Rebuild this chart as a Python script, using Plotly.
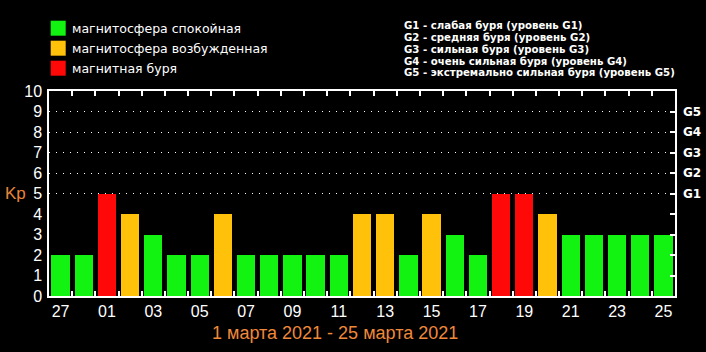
import plotly.graph_objects as go

days = ["27", "28", "01", "02", "03", "04", "05", "06", "07", "08", "09", "10", "11", "12",
        "13", "14", "15", "16", "17", "18", "19", "20", "21", "22", "23", "24", "25"]
kp = [2, 2, 5, 4, 3, 2, 2, 4, 2, 2, 2, 2, 2, 4, 4, 2, 4, 3, 2, 5, 5, 4, 3, 3, 3, 3, 3]
legend_labels = ["магнитосфера спокойная", "магнитосфера возбужденная", "магнитная буря"]
legend_colors = ["#12f312", "#ffc10a", "#ff0808"]
g_labels = ["G1", "G2", "G3", "G4", "G5"]
g_levels = [5, 6, 7, 8, 9]
g_lines = ["G1 - слабая буря (уровень G1)",
           "G2 - средняя буря (уровень G2)",
           "G3 - сильная буря (уровень G3)",
           "G4 - очень сильная буря (уровень G4)",
           "G5 - экстремально сильная буря (уровень G5)"]
title_text = "1 марта 2021 - 25 марта 2021"


def color_for(v):
    if v >= 5:
        return legend_colors[2]
    if v >= 4:
        return legend_colors[1]
    return legend_colors[0]


xs = list(range(len(days)))
fig = go.Figure()
fig.add_trace(go.Bar(x=xs, y=kp, marker=dict(color=[color_for(v) for v in kp], line=dict(width=0)),
                     width=0.79, showlegend=False))
# invisible trace to activate overlay axes
fig.add_trace(go.Scatter(x=[0], y=[0], xaxis="x2", yaxis="y2", mode="markers",
                         marker=dict(opacity=0), showlegend=False, hoverinfo="skip"))

W, H = 706, 352
ml, mr, mt, mb = 49, 31, 91, 56
rng = [-0.5, len(days) - 0.5]

fig.update_layout(
    width=W, height=H,
    margin=dict(l=ml, r=mr, t=mt, b=mb, autoexpand=False),
    paper_bgcolor="black", plot_bgcolor="black",
    bargap=0,
    xaxis=dict(range=rng, tickmode="array", tickvals=xs[::2], ticktext=days[::2],
               ticks="", showline=True, linecolor="white", linewidth=1.5, mirror=True,
               showgrid=False, zeroline=False, fixedrange=True, automargin=False,
               tickfont=dict(family="Liberation Sans", size=16, color="white")),
    xaxis2=dict(range=rng, overlaying="x", side="bottom", tickmode="array",
                tickvals=[i + 0.5 for i in xs[:-1]], ticks="inside", ticklen=5,
                tickcolor="white", tickwidth=1.5, showticklabels=False, mirror="ticks",
                showline=True, linecolor="white", linewidth=1.5, showgrid=False,
                zeroline=False, automargin=False),
    yaxis=dict(range=[0, 10], tickmode="array", tickvals=list(range(11)),
               ticks="", showline=True, linecolor="white", linewidth=1.5, mirror=True,
               showgrid=False, zeroline=False, ticklabelstandoff=2, automargin=False,
               tickfont=dict(family="Liberation Sans", size=16, color="white")),
    yaxis2=dict(range=[0, 10], overlaying="y", side="right", tickmode="array",
                tickvals=g_levels, ticktext=g_labels, ticks="inside", ticklen=5,
                tickcolor="white", tickwidth=1.5, showgrid=True, gridcolor="white",
                gridwidth=1, griddash="1px,6px", zeroline=False, showline=False,
                automargin=False,
                minor=dict(tickmode="array", tickvals=list(range(1, 10)), ticks="inside",
                           ticklen=5, tickcolor="white", tickwidth=1.5),
                ticklabelstandoff=7,
                tickfont=dict(family="DejaVu Sans", size=12, color="white", weight="bold")),
)

pw, ph = W - ml - mr, H - mt - mb


def px_x(x):
    return (x - ml) / pw


def px_y(y):
    return (H - mb - y) / ph


for i, (lab, col) in enumerate(zip(legend_labels, legend_colors)):
    top = 20.7 + 20 * i
    fig.add_shape(type="rect", xref="paper", yref="paper",
                  x0=px_x(50.7), x1=px_x(65.7), y0=px_y(top + 15), y1=px_y(top),
                  line=dict(width=0), fillcolor=col)
    fig.add_annotation(xref="paper", yref="paper", x=px_x(70), y=px_y(top + 7.5),
                       text=lab, showarrow=False, xanchor="left", yanchor="middle",
                       font=dict(family="DejaVu Sans", size=12.5, color="white", weight=500))

for i, line in enumerate(g_lines):
    fig.add_annotation(xref="paper", yref="paper", x=px_x(402), y=px_y(26 + 11.67 * i),
                       text=line, showarrow=False, xanchor="left", yanchor="middle",
                       font=dict(family="DejaVu Sans", size=10.2, color="white", weight="bold"))

fig.add_annotation(xref="paper", yref="paper", x=px_x(3), y=0.5,
                   text="Kp", showarrow=False, xanchor="left", yanchor="middle",
                   font=dict(family="Liberation Sans", size=17, color="#e8853a"))

fig.add_annotation(xref="paper", yref="paper", x=px_x(335), y=px_y(333),
                   text=title_text, showarrow=False, xanchor="center", yanchor="middle",
                   font=dict(family="Liberation Sans", size=18, color="#f0883a"))

fig.write_html("out.html")
